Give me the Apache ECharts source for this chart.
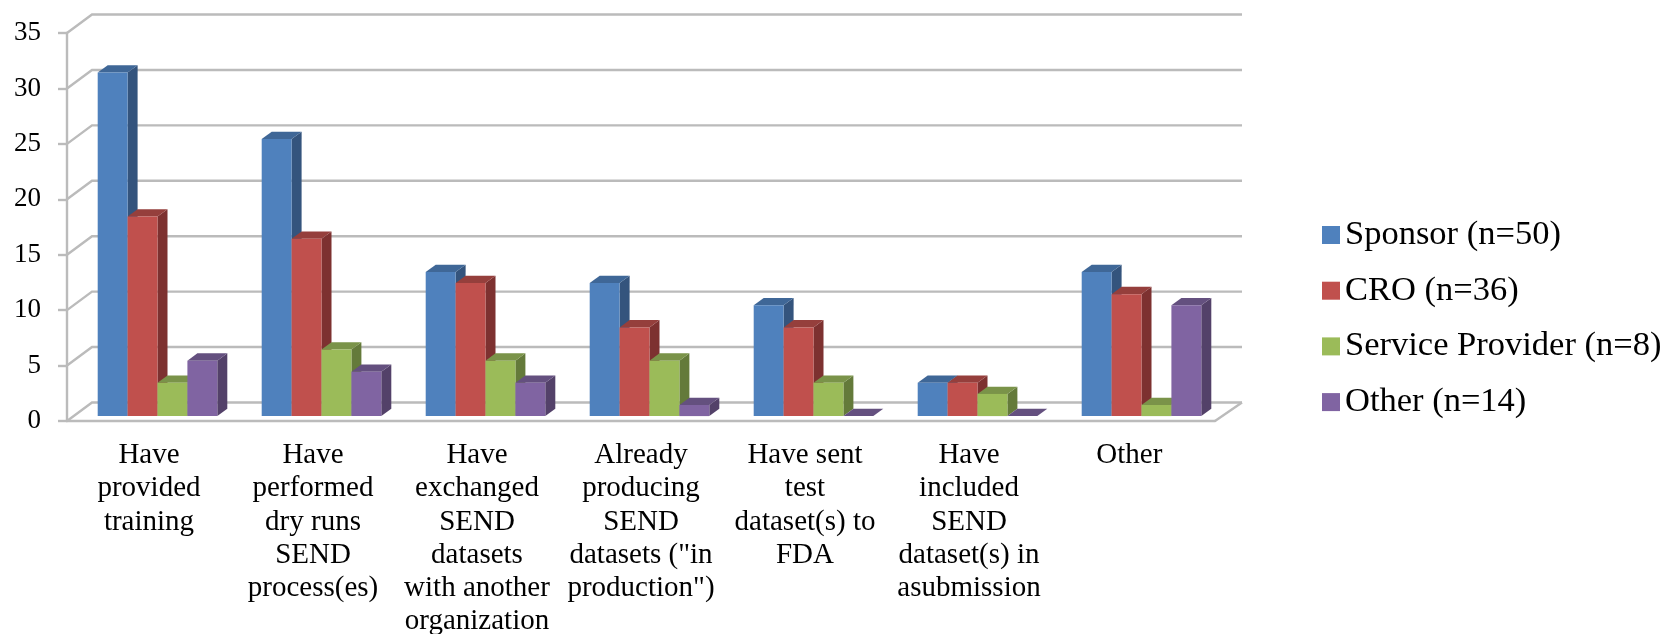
<!DOCTYPE html>
<html><head><meta charset="utf-8">
<style>html,body{margin:0;padding:0;background:#fff}#c{width:1667px;height:634px}</style>
<script src="https://cdn.jsdelivr.net/npm/echarts@6/dist/echarts.min.js"></script>
</head><body><div id="c"></div>
<script>
const categories = ['Have\nprovided\ntraining','Have\nperformed\ndry runs\nSEND\nprocess(es)','Have\nexchanged\nSEND\ndatasets\nwith another\norganization','Already\nproducing\nSEND\ndatasets ("in\nproduction")','Have sent\ntest\ndataset(s) to\nFDA','Have\nincluded\nSEND\ndataset(s) in\nasubmission','Other '];
const sponsor = [31,25,13,12,10,3,13];
const cro = [18,16,12,8,8,3,11];
const provider = [3,6,5,5,3,2,1];
const other = [5,4,3,1,0,0,10];
const ticks = [0,5,10,15,20,25,30,35];
const names = ['Sponsor (n=50)','CRO (n=36)','Service Provider (n=8)','Other (n=14)'];
const FONT = '"Liberation Serif"';
const GRIDC = '#BBBBBB';
const palette = [
 {front:'#4F81BD',top:'#3F6797',side:'#34547D'},
 {front:'#C0504D',top:'#953F3C',side:'#7D3130'},
 {front:'#9BBB59',top:'#7A9349',side:'#647A3A'},
 {front:'#8064A2',top:'#64507F',side:'#534169'}];
const WALL_DX = 25, WALL_DX_R = 27, WALL_DY = 18.5, BAR_DX = 10, BAR_DY = 7.3, BAR_W = 29.9, SHIFT_X = 8.5, LIFT = 4.9;

function gridItem(params, api){
  const v = api.value(1);
  const y = api.coord([0, v])[1];
  const cs = params.coordSys;
  const x0 = cs.x, x1 = cs.x + cs.width;
  const children = [{type:'polyline',
    shape:{points:[[x0,y],[x0+WALL_DX,y-WALL_DY],[x1+WALL_DX_R,y-WALL_DY]]},
    style:{stroke:GRIDC,lineWidth:2.4,fill:null}}];
  if(v===0) children.push({type:'line',
    shape:{x1:x1,y1:y,x2:x1+WALL_DX_R,y2:y-WALL_DY},
    style:{stroke:GRIDC,lineWidth:2.4}});
  return {type:'group',children};
}
function barItem(si){
  return function(params, api){
    const c = palette[si];
    const idx = api.value(0), v = api.value(1);
    const p = api.coord([idx, v]), b = api.coord([idx, 0]);
    const l = p[0] + SHIFT_X + (si-2)*BAR_W, r = l + BAR_W;
    const t = p[1] - LIFT, bt = b[1] - LIFT;
    const shape = pts => ({points:pts});
    return {type:'group',children:[
      {type:'polygon',shape:shape([[r,t],[r+BAR_DX,t-BAR_DY],[r+BAR_DX,bt-BAR_DY],[r,bt]]),style:{fill:c.side}},
      {type:'polygon',shape:shape([[l,t],[r,t],[r+BAR_DX,t-BAR_DY],[l+BAR_DX,t-BAR_DY]]),style:{fill:c.top}},
      {type:'rect',shape:{x:l,y:t,width:BAR_W,height:bt-t},style:{fill:c.front}}
    ]};
  };
}
const seriesData = [sponsor,cro,provider,other];
const chart = echarts.init(document.getElementById('c'),null,{renderer:'canvas'});
chart.setOption({
  animation:false,
  backgroundColor:'#fff',
  grid:{left:67,top:33,width:1148,height:388,containLabel:false,outerBoundsMode:'none'},
  legend:{orient:'vertical',left:1322,top:217.5,padding:0,itemGap:20.7,itemWidth:18,itemHeight:18,icon:'rect',
    data:names,textStyle:{fontFamily:FONT,fontSize:34.5,color:'#000'}},
  xAxis:{type:'category',data:categories,
    axisLine:{lineStyle:{color:GRIDC,width:2.4}},
    axisTick:{length:7,lineStyle:{color:GRIDC,width:2.4}},
    splitLine:{show:false},
    axisLabel:{interval:0,margin:18,lineHeight:33.2,fontFamily:FONT,fontSize:29,color:'#000',align:'center',verticalAlign:'top'}},
  yAxis:{type:'value',min:0,max:35,interval:5,
    axisLine:{show:true,lineStyle:{color:GRIDC,width:2.4}},
    axisTick:{show:true,length:9,lineStyle:{color:GRIDC,width:2.4}},
    splitLine:{show:false},
    axisLabel:{margin:26,fontFamily:FONT,fontSize:27,color:'#000'}},
  series:[
    {type:'custom',silent:true,renderItem:gridItem,data:ticks.map(t=>[0,t]),encode:{x:0,y:1},z:1}
  ].concat(names.map((n,si)=>({
    type:'custom',name:n,renderItem:barItem(si),
    itemStyle:{color:palette[si].front},
    data:seriesData[si].map((v,i)=>[i,v]),encode:{x:0,y:1},z:2
  })))
});
</script></body></html>
